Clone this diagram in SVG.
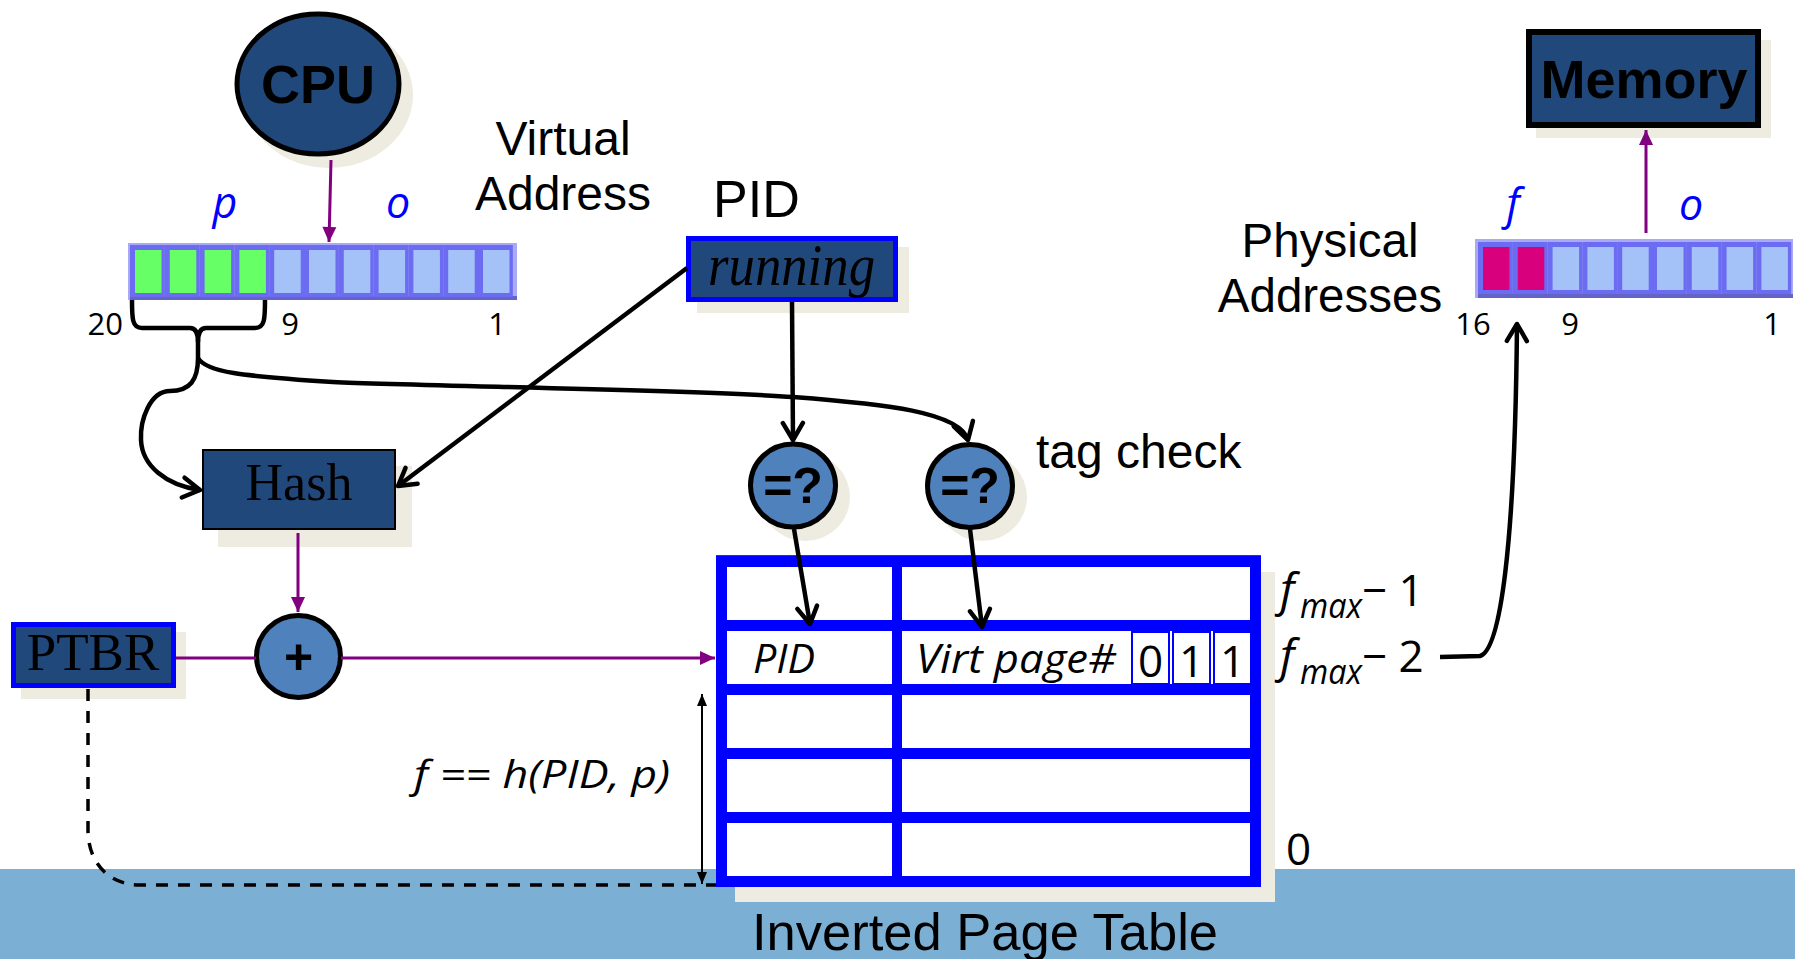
<svg xmlns="http://www.w3.org/2000/svg" width="1795" height="959" viewBox="0 0 1795 959">
  <style>
    .shadow { fill: #eeece1; }
    .navy { fill: #21487b; }
    .node-blue { fill: #4f81bd; stroke: #000; stroke-width: 5; }
    .lbl { font-family: "Liberation Sans", Arial, sans-serif; fill: #000; }
    .serif { font-family: "Liberation Serif", "Times New Roman", serif; fill: #000; }
    .cal { font-family: "Open Sans", "Noto Sans", sans-serif; fill: #000; }
    .it { font-style: italic; }
    .field { font-family: "Open Sans", "Noto Sans", sans-serif; font-style: italic; fill: #0000ff; font-size: 43px; }
    .bit { font-family: "Open Sans", "Noto Sans", sans-serif; font-size: 31px; fill: #000; }
    .cellout { fill: #6c6cf2; }
    .green { fill: #66ff66; }
    .lblue { fill: #a4c2f8; }
    .mag { fill: #d9007e; }
    .conn { fill: none; stroke: #000; stroke-width: 4.5; }
    .purple { fill: none; stroke: #800080; stroke-width: 3; }
    .tbl { fill: none; stroke: #0000ff; }
  </style>
  <defs>
    <marker id="open" viewBox="-22 -13 26 26" markerWidth="26" markerHeight="26" refX="0" refY="0" orient="auto" markerUnits="userSpaceOnUse">
      <path d="M-17,-10 L0,0 L-17,10" fill="none" stroke="#000" stroke-width="4.5" stroke-linecap="round" stroke-linejoin="round"/>
    </marker>
    <marker id="purp" viewBox="-16 -9 18 18" markerWidth="18" markerHeight="18" refX="0" refY="0" orient="auto" markerUnits="userSpaceOnUse">
      <path d="M-15,-7 L0,0 L-15,7 Z" fill="#800080"/>
    </marker>
    <marker id="tri" viewBox="-14 -7 16 14" markerWidth="16" markerHeight="14" refX="0" refY="0" orient="auto-start-reverse" markerUnits="userSpaceOnUse">
      <path d="M-12,-5 L0,0 L-12,5 Z" fill="#000"/>
    </marker>
  </defs>

  <rect width="1795" height="959" fill="#ffffff"/>

  <!-- bottom band -->
  <rect x="0" y="869" width="1795" height="90" fill="#7bafd4"/>

  <!-- CPU -->
  <g id="cpu">
    <ellipse class="shadow" cx="329" cy="95" rx="84" ry="73"/>
    <ellipse cx="318" cy="84" rx="81" ry="70" fill="#21487b" stroke="#000" stroke-width="5"/>
    <text class="lbl" x="318" y="103" font-size="54" font-weight="bold" text-anchor="middle">CPU</text>
  </g>

  <!-- virtual address register -->
  <g id="virtual-address">
    <rect x="128" y="243" width="389" height="57" fill="#a8aaf6"/>
    <rect x="130" y="296" width="387" height="4" fill="#6464c8"/>
    <g>
      <rect class="cellout" x="130" y="245" width="34.8" height="52"/><rect class="green" x="135" y="250" width="26.5" height="43"/>
      <rect class="cellout" x="164.8" y="245" width="34.8" height="52"/><rect class="green" x="169.8" y="250" width="26.5" height="43"/>
      <rect class="cellout" x="199.6" y="245" width="34.8" height="52"/><rect class="green" x="204.6" y="250" width="26.5" height="43"/>
      <rect class="cellout" x="234.4" y="245" width="34.8" height="52"/><rect class="green" x="239.4" y="250" width="26.5" height="43"/>
      <rect class="cellout" x="269.2" y="245" width="34.8" height="52"/><rect class="lblue" x="274.2" y="250" width="26.5" height="43"/>
      <rect class="cellout" x="304" y="245" width="34.8" height="52"/><rect class="lblue" x="309" y="250" width="26.5" height="43"/>
      <rect class="cellout" x="338.8" y="245" width="34.8" height="52"/><rect class="lblue" x="343.8" y="250" width="26.5" height="43"/>
      <rect class="cellout" x="373.6" y="245" width="34.8" height="52"/><rect class="lblue" x="378.6" y="250" width="26.5" height="43"/>
      <rect class="cellout" x="408.4" y="245" width="34.8" height="52"/><rect class="lblue" x="413.4" y="250" width="26.5" height="43"/>
      <rect class="cellout" x="443.2" y="245" width="34.8" height="52"/><rect class="lblue" x="448.2" y="250" width="26.5" height="43"/>
      <rect class="cellout" x="478" y="245" width="34.8" height="52"/><rect class="lblue" x="483" y="250" width="26.5" height="43"/>
    </g>
    <text class="field" x="225" y="218" text-anchor="middle">p</text>
    <text class="field" x="398" y="218" text-anchor="middle">o</text>
    <text class="bit" x="123" y="335" text-anchor="end">20</text>
    <text class="bit" x="290" y="335" text-anchor="middle">9</text>
    <text class="bit" x="497" y="335" text-anchor="middle">1</text>
    <text class="lbl" x="563" y="155" font-size="48" text-anchor="middle">Virtual</text>
    <text class="lbl" x="563" y="210" font-size="48" text-anchor="middle">Address</text>
  </g>

  <!-- PID register -->
  <g id="pid">
    <text class="lbl" x="713" y="217" font-size="52">PID</text>
    <rect class="shadow" x="697" y="247" width="212" height="66"/>
    <rect x="688.5" y="238.5" width="207" height="61" fill="#21487b" stroke="#0000ff" stroke-width="5"/>
    <text class="serif it" x="708" y="285" font-size="60" textLength="167" lengthAdjust="spacingAndGlyphs">running</text>
  </g>

  <!-- Hash -->
  <g id="hash">
    <rect class="shadow" x="218" y="466" width="194" height="81"/>
    <rect x="203" y="450" width="192" height="79" fill="#21487b" stroke="#000" stroke-width="2"/>
    <text class="serif" x="299" y="500" font-size="52" text-anchor="middle">Hash</text>
  </g>

  <!-- PTBR -->
  <g id="ptbr">
    <rect class="shadow" x="21" y="632" width="165" height="67"/>
    <rect x="13.5" y="624.5" width="160" height="61" fill="#21487b" stroke="#0000ff" stroke-width="5"/>
    <text class="serif" x="93" y="670" font-size="53" text-anchor="middle">PTBR</text>
  </g>

  <!-- adder -->
  <g id="adder">
    <ellipse class="node-blue" cx="298.5" cy="656.5" rx="42" ry="41"/>
    <text class="lbl" x="298.5" y="674" font-size="50" font-weight="bold" text-anchor="middle">+</text>
  </g>

  <!-- tag comparators -->
  <g id="cmp-pid">
    <ellipse class="shadow" cx="805" cy="497" rx="45" ry="44"/>
    <ellipse class="node-blue" cx="793" cy="485.5" rx="42.5" ry="41.5"/>
    <text class="lbl" x="793" y="503" font-size="50" font-weight="bold" text-anchor="middle">=?</text>
  </g>
  <g id="cmp-page">
    <ellipse class="shadow" cx="982" cy="497" rx="45" ry="44"/>
    <ellipse class="node-blue" cx="970" cy="486" rx="42.5" ry="41.5"/>
    <text class="lbl" x="970" y="503" font-size="50" font-weight="bold" text-anchor="middle">=?</text>
  </g>
  <text class="lbl" x="1036" y="468" font-size="48">tag check</text>

  <!-- inverted page table -->
  <g id="page-table">
    <rect class="shadow" x="735" y="572" width="540" height="330"/>
    <rect x="721.5" y="561.5" width="534" height="320" fill="#ffffff"/>
    <line x1="716" y1="556" x2="1261" y2="556" stroke="#000" stroke-width="1.5"/>
    <rect class="tbl" x="721.5" y="561.5" width="534" height="320" stroke-width="11"/>
    <line class="tbl" x1="897" y1="561" x2="897" y2="882" stroke-width="10"/>
    <line class="tbl" x1="716" y1="625.5" x2="1261" y2="625.5" stroke-width="11"/>
    <line class="tbl" x1="716" y1="689.5" x2="1261" y2="689.5" stroke-width="11"/>
    <line class="tbl" x1="716" y1="753.5" x2="1261" y2="753.5" stroke-width="11"/>
    <line class="tbl" x1="716" y1="817.5" x2="1261" y2="817.5" stroke-width="11"/>
    <rect class="tbl" x="1132" y="632" width="37" height="52" stroke-width="2"/>
    <rect class="tbl" x="1173" y="632" width="37" height="52" stroke-width="2"/>
    <rect class="tbl" x="1214" y="632" width="37" height="52" stroke-width="2"/>
    <text class="cal it" x="753" y="673" font-size="40" textLength="62" lengthAdjust="spacingAndGlyphs">PID</text>
    <text class="cal it" x="916" y="673" font-size="41" textLength="200" lengthAdjust="spacingAndGlyphs">Virt page#</text>
    <text class="cal" x="1150.5" y="677" font-size="44" text-anchor="middle">0</text>
    <text class="cal" x="1191.5" y="677" font-size="44" text-anchor="middle">1</text>
    <text class="cal" x="1232.5" y="677" font-size="44" text-anchor="middle">1</text>
    <text class="lbl" x="752" y="950" font-size="52.5">Inverted Page Table</text>
  </g>

  <!-- frame labels -->
  <g id="frame-labels">
    <text class="cal it" x="1280" y="606" font-size="46">f</text>
    <text class="cal it" x="1300" y="618" font-size="34" textLength="62" lengthAdjust="spacingAndGlyphs">max</text>
    <text class="cal" x="1362" y="606" font-size="44">− 1</text>
    <text class="cal it" x="1280" y="672" font-size="46">f</text>
    <text class="cal it" x="1300" y="684" font-size="34" textLength="62" lengthAdjust="spacingAndGlyphs">max</text>
    <text class="cal" x="1362" y="672" font-size="44">− 2</text>
    <text class="cal" x="1286" y="865" font-size="44">0</text>
    <text class="cal it" x="414" y="788" font-size="39" textLength="256" lengthAdjust="spacingAndGlyphs">f == h(PID, p)</text>
  </g>

  <!-- physical address register -->
  <g id="physical-address">
    <rect x="1475" y="239" width="318" height="59" fill="#a8aaf6"/>
    <rect x="1478" y="294" width="315" height="4" fill="#6464c8"/>
    <g>
      <rect class="cellout" x="1478" y="242" width="34.8" height="52"/><rect class="mag" x="1483" y="247" width="26.5" height="43"/>
      <rect class="cellout" x="1512.8" y="242" width="34.8" height="52"/><rect class="mag" x="1517.8" y="247" width="26.5" height="43"/>
      <rect class="cellout" x="1547.6" y="242" width="34.8" height="52"/><rect class="lblue" x="1552.6" y="247" width="26.5" height="43"/>
      <rect class="cellout" x="1582.4" y="242" width="34.8" height="52"/><rect class="lblue" x="1587.4" y="247" width="26.5" height="43"/>
      <rect class="cellout" x="1617.2" y="242" width="34.8" height="52"/><rect class="lblue" x="1622.2" y="247" width="26.5" height="43"/>
      <rect class="cellout" x="1652" y="242" width="34.8" height="52"/><rect class="lblue" x="1657" y="247" width="26.5" height="43"/>
      <rect class="cellout" x="1686.8" y="242" width="34.8" height="52"/><rect class="lblue" x="1691.8" y="247" width="26.5" height="43"/>
      <rect class="cellout" x="1721.6" y="242" width="34.8" height="52"/><rect class="lblue" x="1726.6" y="247" width="26.5" height="43"/>
      <rect class="cellout" x="1756.4" y="242" width="34.8" height="52"/><rect class="lblue" x="1761.4" y="247" width="26.5" height="43"/>
    </g>
    <text class="field" x="1513" y="219" text-anchor="middle">f</text>
    <text class="field" x="1691" y="220" text-anchor="middle">o</text>
    <text class="bit" x="1473" y="335" text-anchor="middle">16</text>
    <text class="bit" x="1570" y="335" text-anchor="middle">9</text>
    <text class="bit" x="1772" y="335" text-anchor="middle">1</text>
    <text class="lbl" x="1330" y="257" font-size="47.5" text-anchor="middle">Physical</text>
    <text class="lbl" x="1330" y="312" font-size="47.5" text-anchor="middle">Addresses</text>
  </g>

  <!-- Memory -->
  <g id="memory">
    <rect class="shadow" x="1536" y="40" width="235" height="98"/>
    <rect x="1529" y="32" width="229" height="93" fill="#21487b" stroke="#000" stroke-width="6"/>
    <text class="lbl" x="1644" y="98" font-size="54" font-weight="bold" text-anchor="middle">Memory</text>
  </g>

  <!-- connectors -->
  <g id="connectors">
    <!-- page-number brace -->
    <path class="conn" stroke-width="4" d="M132,300 C132,318 132,328 142,328 L190,328 C196,328 198,333 198,342 L198,358"/>
    <path class="conn" stroke-width="4" d="M265,300 C265,318 265,328 255,328 L206,328 C200,328 198,333 198,342"/>
    <!-- p into hash -->
    <path class="conn" d="M198,358 C198,380 190,391 170,391 C150,391 140,420 141,440 C142,465 165,485 200,490" marker-end="url(#open)"/>
    <!-- p to page-number comparator -->
    <path class="conn" d="M198,358 C206,372 240,376 333,382 C420,386 700,390 793,397 C885,404 960,412 968,440" marker-end="url(#open)"/>
    <!-- PID into hash -->
    <path class="conn" d="M687,268 L398,486" marker-end="url(#open)"/>
    <!-- PID to PID comparator -->
    <path class="conn" d="M792,302 L793,440" marker-end="url(#open)"/>
    <!-- comparators to table row -->
    <path class="conn" d="M794,529 L810,624" marker-end="url(#open)"/>
    <path class="conn" d="M970,529 L982,627" marker-end="url(#open)"/>
    <!-- frame number to physical address -->
    <path class="conn" d="M1440,657 L1480,656 C1500,650 1515,550 1517,324" marker-end="url(#open)"/>
    <!-- data paths -->
    <path class="purple" d="M331,160 L329,242" marker-end="url(#purp)"/>
    <path class="purple" d="M298,533 L298,612" marker-end="url(#purp)"/>
    <path class="purple" d="M176,658 L256,658"/>
    <path class="purple" d="M341,658 L715,658" marker-end="url(#purp)"/>
    <path class="purple" d="M1646,233 L1646,130" marker-end="url(#purp)"/>
    <!-- PTBR base of table -->
    <path fill="none" stroke="#000" stroke-width="3.5" stroke-dasharray="12 10" d="M88,689 L88,830 C88,862 108,885 140,885 L716,885"/>
    <!-- hash range -->
    <path fill="none" stroke="#000" stroke-width="2" d="M702,694 L702,884" marker-start="url(#tri)" marker-end="url(#tri)"/>
  </g>
</svg>
